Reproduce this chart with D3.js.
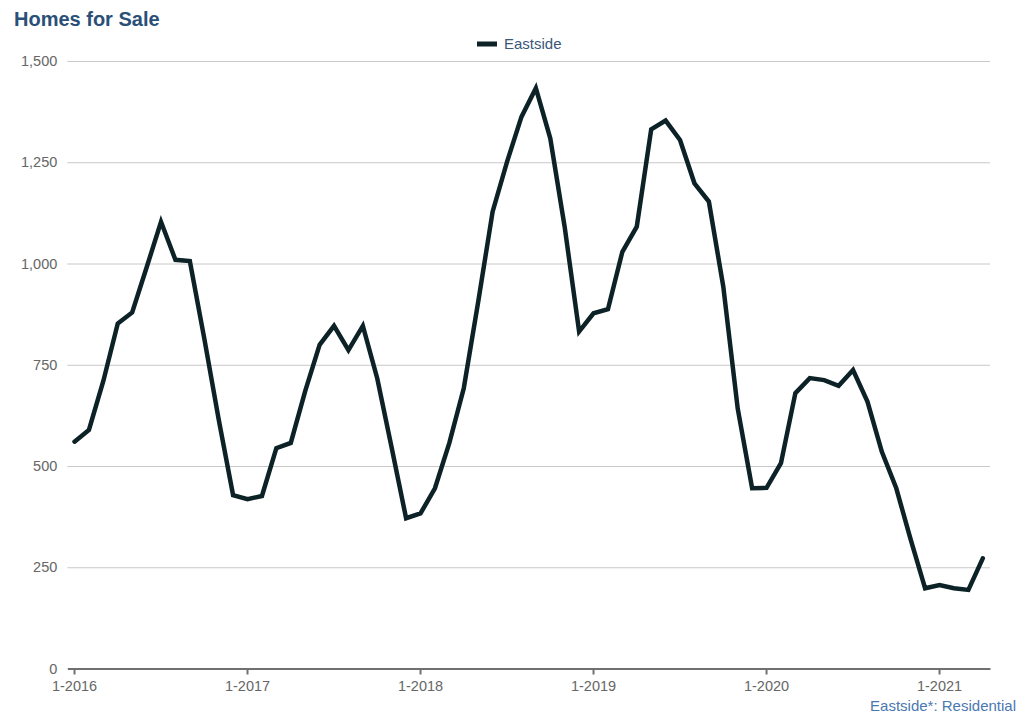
<!DOCTYPE html>
<html>
<head>
<meta charset="utf-8">
<script src="https://cdn.jsdelivr.net/npm/d3@7"></script>
<style>
  html, body { margin: 0; padding: 0; background: #fff; }
  svg { display: block; font-family: "Liberation Sans", Arial, Helvetica, sans-serif; }
</style>
</head>
<body>
<svg id="chart" width="1024" height="718"></svg>
<script>
// ---- Data ----
const title = "Homes for Sale";
const seriesName = "Eastside";
const sourceNote = "Eastside*: Residential";
const startYear = 2016;
const months = d3.range(64).map(i => new Date(startYear, i, 1));
const eastside = [
  560, 589, 710, 852, 879, 990, 1103, 1009, 1006, 815, 615, 428,
  418, 426, 544, 557, 685, 799, 846, 786, 846, 716, 545, 371,
  383, 445, 557, 692, 905, 1128, 1251, 1362, 1433, 1309, 1090, 832,
  877, 887, 1029, 1091, 1331, 1353, 1305, 1198, 1153, 943, 642, 445,
  446, 507, 680, 717, 712, 698, 737, 659, 535, 445, 318, 198,
  206, 198, 194, 272
];
const yTicks = [0, 250, 500, 750, 1000, 1250, 1500];
const xTickLabels = ["1-2016", "1-2017", "1-2018", "1-2019", "1-2020", "1-2021"];

// ---- Layout ----
const svg = d3.select("#chart");
const mLeft = 67.3, mRight = 990, mTop = 61, mBottom = 668.5;

const x = d3.scaleBand()
  .domain(d3.range(months.length))
  .range([mLeft, mRight]);
const xc = i => x(i) + x.bandwidth() / 2;

const y = d3.scaleLinear().domain([0, 1500]).range([mBottom, mTop]);

// Gridlines + y labels
const yAxis = d3.axisLeft(y)
  .tickValues(yTicks)
  .tickSize(-(mRight - mLeft))
  .tickFormat(d3.format(","));
const gy = svg.append("g").attr("transform", `translate(${mLeft},0)`).call(yAxis);
gy.select(".domain").remove();
gy.selectAll(".tick line").attr("stroke", "#c8c8c8").attr("stroke-width", 1);
gy.selectAll(".tick text")
  .attr("x", -10)
  .attr("fill", "#666")
  .style("font-size", "14.5px")
  .style("font-family", "Liberation Sans, Arial, sans-serif");
gy.selectAll(".tick").filter(d => d === 0).select("line").remove();

// X axis
const tickIdx = xTickLabels.map((_, k) => k * 12);
const xAxis = d3.axisBottom(x)
  .tickValues(tickIdx)
  .tickSize(6)
  .tickSizeOuter(0)
  .tickFormat((d, k) => xTickLabels[k]);
const gx = svg.append("g").attr("transform", `translate(0,${mBottom})`).call(xAxis);
gx.select(".domain").attr("stroke", "#707070").attr("stroke-width", 2);
gx.selectAll(".tick line").attr("stroke", "#707070").attr("stroke-width", 2);
gx.selectAll(".tick text")
  .attr("y", 12)
  .attr("fill", "#666")
  .style("font-size", "14.5px")
  .style("font-family", "Liberation Sans, Arial, sans-serif");

// Line
const line = d3.line()
  .x((d, i) => xc(i))
  .y(d => y(d));
svg.append("path")
  .datum(eastside)
  .attr("fill", "none")
  .attr("stroke", "#0c2227")
  .attr("stroke-width", 4.5)
  .attr("stroke-linejoin", "miter")
  .attr("stroke-linecap", "round")
  .attr("d", line);

// Title
svg.append("text")
  .attr("x", 14).attr("y", 26)
  .attr("fill", "#2a4f78")
  .style("font-size", "20px")
  .style("font-weight", "bold")
  .text(title);

// Legend
const lg = svg.append("g").attr("transform", "translate(477,44)");
lg.append("line").attr("x1", 0).attr("x2", 20).attr("y1", 0).attr("y2", 0)
  .attr("stroke", "#0c2227").attr("stroke-width", 5);
lg.append("text").attr("x", 27).attr("y", 5)
  .attr("fill", "#3a5778").style("font-size", "15px").text(seriesName);

// Source note
svg.append("text")
  .attr("x", 1016).attr("y", 711)
  .attr("text-anchor", "end")
  .attr("fill", "#4a78b0")
  .style("font-size", "15px")
  .text(sourceNote);
</script>
</body>
</html>
